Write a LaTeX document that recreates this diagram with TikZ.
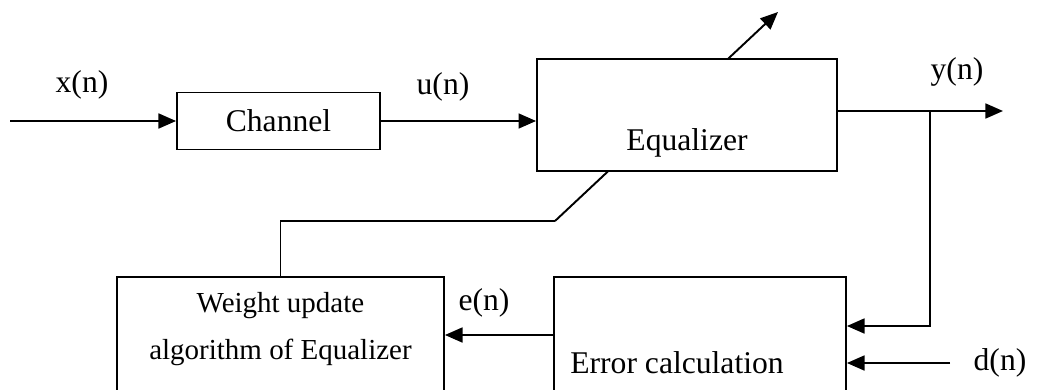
\documentclass[tikz,border=0pt]{standalone}
\usepackage{fontspec}
\setmainfont{Liberation Serif}
\usetikzlibrary{arrows.meta,backgrounds}

\begin{document}
\begin{tikzpicture}[x=0.02cm,y=-0.02cm,
    blk/.style={draw=black, line width=1.1pt, fill=white, inner sep=0pt},
    lab/.style={font=\fontsize{18}{22}\selectfont, inner sep=0pt},
    wire/.style={line width=1.1pt},
    arr/.style={wire, -{Triangle[length=10pt,width=8.5pt]}}]
    \useasboundingbox (0,0) rectangle (1037,389);
    \clip (0,0) rectangle (1037,389);

    % Draw the blocks
    \node[blk, lab, minimum width=4.06cm, minimum height=1.14cm] (chan) at (278.5,121) {Channel};
    \node[blk, minimum width=6cm, minimum height=2.24cm] (equ) at (687,115) {};
    \node[blk, anchor=north, minimum width=6.54cm, minimum height=3cm] (wupd) at (280.5,276) {};
    \node[blk, anchor=north, minimum width=5.84cm, minimum height=3cm] (errc) at (700,276) {};

    % Texts inside the blocks
    \node[lab] (equtxt) at (687,143) {Equalizer};
    \node[lab, font=\fontsize{16.5}{27.2}\selectfont, align=center] (wtxt) at (280.5,329) {Weight update\\algorithm of Equalizer};
    \node[lab] (etxt) at (677,363) {Error calculation};

    % Signal labels
    \node[lab] (xlab) at (82,85) {x(n)};
    \node[lab] (ulab) at (443,87) {u(n)};
    \node[lab] (ylab) at (957,72) {y(n)};
    \node[lab] (elab) at (484,303) {e(n)};
    \node[lab] (dlab) at (1000,363) {d(n)};

    % Free ends and corners
    \coordinate (xin) at (10,121);
    \coordinate (ybr) at (930,111);
    \coordinate (yout) at (1003,111);
    \coordinate (fb) at (930,326);
    \coordinate (din) at (950,363);
    \coordinate (eout) at (554,335);
    \coordinate (adj) at (555,221);
    \coordinate (adjtip) at (778,12);

    % Forward path
    \draw[arr] (xin) -- (chan.west);
    \draw[arr] (chan.east) -- (chan.east -| equ.west);
    \draw[wire] (equ.east |- ybr) -- (ybr);
    \draw[arr] (ybr) -- (yout);

    % Error and feedback
    \draw[arr] (ybr) -- (fb) -- (fb -| errc.east);
    \draw[arr] (din) -- (din -| errc.east);
    \draw[arr] (eout) -- (eout -| wupd.east);
    \draw[wire] (wupd.north) |- (adj);

    % Adjustment arrow through the equalizer
    \begin{scope}[on background layer]
        \draw[arr] (adj) -- (adjtip);
    \end{scope}

\end{tikzpicture}
\end{document}
